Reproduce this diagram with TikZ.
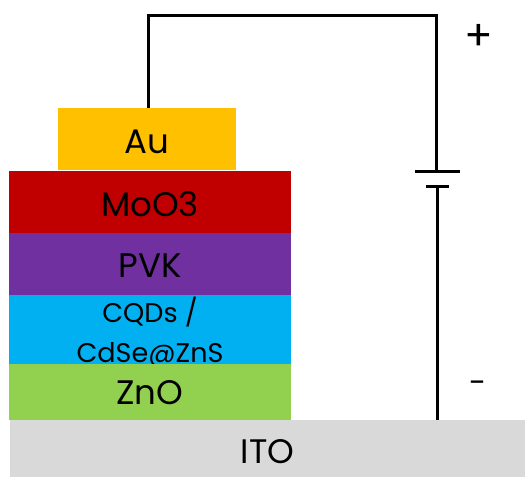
\documentclass[tikz,border=0pt]{standalone}
\usepackage{fontspec}
\setmainfont{Poppins}
\usepackage{tikz}

\tikzset{
	layer/.style={inner sep=0pt,text=black,align=center,text height=24pt,text depth=0pt,
		font=\fontsize{34}{40}\selectfont},
	plate/.style={fill=black,inner sep=0pt,minimum height=3pt},
	wire/.style={draw=black,line width=3pt,line join=miter},
	sign/.style={inner sep=0pt,text=black}
}
\definecolor{colau}{HTML}{FFC000}
\definecolor{colmoo}{HTML}{C00000}
\definecolor{colpvk}{HTML}{7030A0}
\definecolor{colcqd}{HTML}{00B0F0}
\definecolor{colzno}{HTML}{92D050}
\definecolor{colito}{HTML}{D9D9D9}

\begin{document}
\begin{tikzpicture}[x=1pt,y=-1pt]
\useasboundingbox (0,0) rectangle (525,477);
\path (147,139) node[layer,fill=colau,minimum width=178pt,minimum height=62pt,text height=28pt](au) {Au}
		(150,202) node[layer,fill=colmoo,minimum width=282pt,minimum height=63pt,text height=28pt](moo) {MoO3}
		(150,264) node[layer,fill=colpvk,minimum width=282pt,minimum height=62pt,text height=26pt](pvk) {PVK}
		(150,329.5) node[layer,fill=colcqd,minimum width=282pt,minimum height=69pt,text height=65pt,
			font=\fontsize{27}{40}\selectfont](cqd) {CQDs /\\CdSe@ZnS}
		(150,392) node[layer,fill=colzno,minimum width=282pt,minimum height=56pt](zno) {ZnO}
		(267.5,448.5) node[layer,fill=colito,minimum width=515pt,minimum height=57pt,text height=29pt](ito) {ITO}
		(437.5,171.5) node[plate,minimum width=45pt](platea) {}
		(437,186) node[plate,minimum width=23pt](plateb) {}
		(479,37) node[sign,font=\fontsize{42}{48}\selectfont](plus) {+}
		(478,387) node[sign,font=\fontsize{31}{36}\selectfont](minus) {-}
		;
	\coordinate (lt) at (148,15);
	\coordinate (rt) at (436,15);
	\coordinate (rb) at (437,420);
	\draw[wire] (au.north -| lt) -- (lt) -- (rt) -- (platea.north -| rt);
	\draw[wire] (plateb.south -| rb) -- (rb);
\end{tikzpicture}
\end{document}
